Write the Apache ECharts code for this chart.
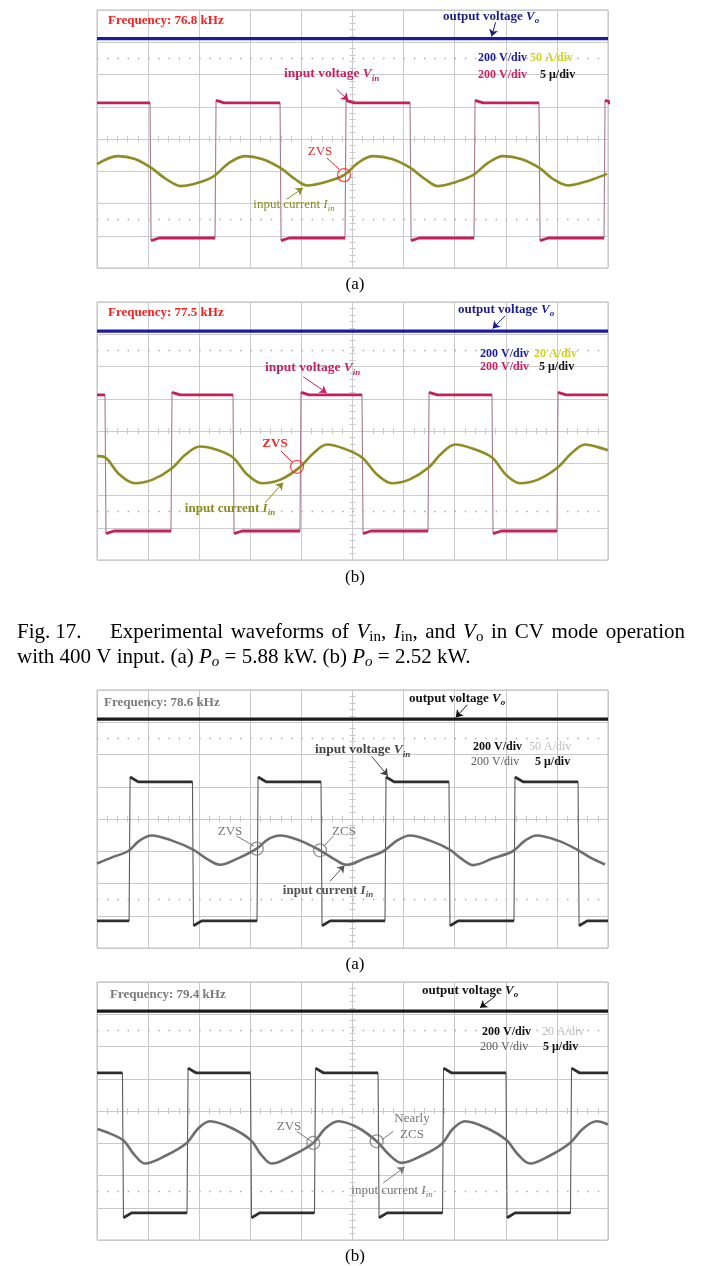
<!DOCTYPE html>
<html><head><meta charset="utf-8">
<script src="https://cdn.jsdelivr.net/npm/echarts@6/dist/echarts.min.js"></script>
<style>html,body{margin:0;padding:0;background:#fff}#c{width:702px;height:1266px}</style>
</head><body><div id="c"></div>
<script>
// ---------- axes (time in µs, 5 µs/div; vertical in screen divisions) ----------
const X_MIN = -25, X_MAX = 25, X_STEP = 5;
const Y_MIN = -4, Y_MAX = 4, Y_STEP = 1;

// ---------- panel (a) upper : Po = 5.88 kW, 76.8 kHz ----------
const voA = 3.11;
const vinA_levels = [1.12, -3.07];
const vinA_fall = [-19.81, -7.09, 5.63, 18.25];
const vinA_rise = [-13.45, -0.73, 11.89, 24.61];
const iinA = [[-25.00,-0.78],[-22.95,-0.53],[-21.28,-0.62],[-19.72,-0.89],[-18.25,-1.24],[-16.78,-1.46],[-15.12,-1.36],[-13.55,-1.15],[-12.08,-0.74],[-10.52,-0.53],[-8.86,-0.62],[-7.09,-0.89],[-5.63,-1.24],[-4.45,-1.44],[-2.59,-1.33],[-0.83,-1.12],[0.54,-0.74],[2.01,-0.53],[3.87,-0.62],[5.63,-0.89],[7.09,-1.24],[8.37,-1.46],[10.13,-1.33],[11.79,-1.12],[13.26,-0.74],[14.73,-0.53],[16.49,-0.62],[18.25,-0.89],[19.62,-1.24],[21.09,-1.44],[23.04,-1.30],[24.90,-1.08]];
const zvsA = [[-0.83, -1.12]];

// ---------- panel (b) upper : Po = 2.52 kW, 77.5 kHz ----------
const voB = 3.10;
const vinB_levels = [1.12, -3.10];
const vinB_fall = [-24.22, -11.69, 0.93, 13.65];
const vinB_rise = [-17.76, -5.14, 7.39, 20.01];
const iinB = [[-25,-0.78],[-24.22,-0.82],[-22.8,-1.35],[-21.28,-1.62],[-19.5,-1.5],[-17.76,-1.18],[-16.3,-0.72],[-14.92,-0.48],[-13.3,-0.58],[-11.69,-0.82],[-10.3,-1.35],[-8.86,-1.62],[-7.0,-1.5],[-5.14,-1.12],[-3.8,-0.68],[-2.49,-0.42],[-0.8,-0.55],[0.93,-0.82],[2.4,-1.35],[3.87,-1.62],[5.6,-1.5],[7.39,-1.15],[8.7,-0.7],[10.03,-0.42],[11.8,-0.55],[13.65,-0.82],[15.0,-1.35],[16.39,-1.62],[18.2,-1.5],[20.01,-1.15],[21.4,-0.7],[22.75,-0.42],[24.0,-0.5],[25,-0.6]];
const zvsB = [[-5.43, -1.11]];

// ---------- panel (a) lower : 78.6 kHz ----------
const voC = 3.10;
const vinC_levels = [1.15, -3.16];
const vinC_fall = [-15.66, -3.08, 9.44, 22.07];
const vinC_rise = [-21.86, -9.34, 3.18, 15.80];
const iinC = [[-25.0,-1.38],[-23.53,-1.19],[-21.98,-1.00],[-20.84,-0.67],[-19.65,-0.51],[-17.66,-0.67],[-15.64,-0.94],[-14.33,-1.22],[-12.97,-1.42],[-11.20,-1.22],[-9.37,-0.92],[-8.27,-0.63],[-7.09,-0.51],[-5.14,-0.67],[-3.18,-0.97],[-1.91,-1.22],[-0.57,-1.42],[1.22,-1.22],[3.01,-1.00],[4.35,-0.67],[5.63,-0.51],[7.58,-0.67],[9.47,-0.94],[10.62,-1.22],[11.82,-1.43],[13.75,-1.22],[15.68,-1.00],[16.88,-0.67],[18.02,-0.51],[20.11,-0.67],[22.10,-0.97],[23.24,-1.19],[24.71,-1.41]];
const zvsC = [[-9.37, -0.92]];
const zcsC = [[-3.18, -0.97]];

// ---------- panel (b) lower : 79.4 kHz ----------
const voD = 3.10;
const vinD_levels = [1.18, -3.16];
const vinD_fall = [-22.51, -9.98, 2.50, 15.02];
const vinD_rise = [-16.19, -3.72, 8.81, 21.33];
const iinD = [[-24.96,-0.56],[-23.72,-0.70],[-22.43,-0.91],[-21.36,-1.35],[-20.30,-1.63],[-18.25,-1.38],[-16.22,-0.99],[-15.12,-0.55],[-13.95,-0.32],[-11.89,-0.52],[-9.93,-0.91],[-8.95,-1.35],[-7.91,-1.63],[-5.92,-1.38],[-3.84,-0.99],[-2.69,-0.55],[-1.39,-0.32],[0.54,-0.52],[2.37,-0.94],[3.57,-1.35],[4.81,-1.61],[6.80,-1.38],[8.73,-1.02],[9.83,-0.55],[11.01,-0.32],[13.06,-0.52],[15.09,-0.91],[16.19,-1.35],[17.37,-1.63],[19.33,-1.38],[21.28,-0.99],[22.55,-0.55],[23.89,-0.32],[25.0,-0.42]];
const zvsD = [[-3.84, -0.99]];
const zcsD = [[2.37, -0.94]];

// ---------- helpers ----------
const SERIF = "'Liberation Serif','Times New Roman',serif";

function buildSquare(fall, rise, levels, startHigh, over) {
  const hi = levels[0], lo = levels[1];
  const edges = fall.map(t => [t, 'f']).concat(rise.map(t => [t, 'r'])).sort((a, b) => a[0] - b[0]);
  let lvl = startHigh ? hi : lo;
  const full = [[X_MIN, lvl]], flats = [[X_MIN, lvl]];
  edges.forEach(([t, k]) => {
    const from = k === 'f' ? hi : lo, to = k === 'f' ? lo : hi;
    const pk = k === 'f' ? lo - over : hi + over;
    full.push([t, from], [t + 0.1, pk], [t + 0.9, to]);
    flats.push([t, from], null, [t + 0.1, pk], [t + 0.9, to]);
    lvl = to;
  });
  full.push([X_MAX, lvl]); flats.push([X_MAX, lvl]);
  return {full, flats};
}

const panels = [
  {top: 10, vo: voA, vin: buildSquare(vinA_fall, vinA_rise, vinA_levels, true, 0.08), iin: iinA,
   col: {vo:'#1c1ca2', vin:'#c81e5c', edge:'#a57a90', iin:'#8e8d22', grid:'#cbcbcb', ann:'#ff2020', voT:'#1c1c8e', vinT:'#cc1e64', iinT:'#8a8a1e'},
   marks: [{pts: zvsA, color:'#ff2020'}],
   arrows: {vo: [[14.0, 3.62],[13.62, 3.18]], vin: [[-1.55, 1.54],[-0.41, 1.20]], iin: [[-6.44, -1.87],[-4.85, -1.52]]},
   links: [[[-2.50, -0.59],[-1.32, -0.93]]]},
  {top: 302, vo: voB, vin: buildSquare(vinB_fall, vinB_rise, vinB_levels, true, 0.08), iin: iinB,
   col: {vo:'#1c1ca2', vin:'#c81e5c', edge:'#a57a90', iin:'#8e8d22', grid:'#cbcbcb', ann:'#ff2020', voT:'#1c1c8e', vinT:'#cc1e64', iinT:'#8a8a1e'},
   marks: [{pts: zvsB, color:'#ff2020'}],
   arrows: {vo: [[14.92, 3.57],[13.71, 3.18]], vin: [[-4.81, 1.68],[-2.52, 1.18]], iin: [[-8.56, -2.23],[-6.8, -1.6]]},
   links: [[[-7.0, -0.62],[-5.92, -0.96]]]},
  {top: 690, vo: voC, vin: buildSquare(vinC_fall, vinC_rise, vinC_levels, false, 0.15), iin: iinC,
   col: {vo:'#1a1a1a', vin:'#2e2e2e', edge:'#5a5a5a', iin:'#6e6e6e', grid:'#c8c8c8', ann:'#777777', voT:'#111', vinT:'#444', iinT:'#555'},
   marks: [{pts: zvsC, color:'#777'}, {pts: zcsC, color:'#777'}],
   arrows: {vo: [[11.23, 3.54],[10.10, 3.15]], vin: [[1.88, 1.94],[3.45, 1.34]], iin: [[-2.20, -1.93],[-0.78, -1.44]]},
   links: [[[-11.33, -0.53],[-9.64, -0.84]], [[-1.88, -0.53],[-2.80, -0.84]]]},
  {top: 982, vo: voD, vin: buildSquare(vinD_fall, vinD_rise, vinD_levels, true, 0.15), iin: iinD,
   col: {vo:'#1a1a1a', vin:'#2e2e2e', edge:'#5a5a5a', iin:'#6e6e6e', grid:'#c8c8c8', ann:'#777777', voT:'#111', vinT:'#444', iinT:'#777'},
   marks: [{pts: zvsD, color:'#777'}, {pts: zcsD, color:'#777'}],
   arrows: {vo: [[13.94, 3.55],[12.48, 3.2]], vin: null, iin: [[3.01, -2.23],[5.1, -1.74]]},
   links: [[[-5.46, -0.63],[-3.95, -0.96]], [[3.99, -0.63],[2.93, -0.88]]]}
];

const grids = [], xAxes = [], yAxes = [], series = [];
panels.forEach((p, i) => {
  grids.push({left: 97, top: p.top, width: 511, height: 258, show: true, borderColor: '#bdbdbd', borderWidth: 1, backgroundColor: 'transparent'});
  const gl = {color: p.col.grid, width: 1};
  const tk = {show: true, inside: false, length: 3, lineStyle: gl};
  const mt = {show: true, splitNumber: 5, length: 3, lineStyle: gl};
  ['bottom', 'top'].forEach((pos, j) => xAxes.push({gridIndex: i, type: 'value', position: pos, min: X_MIN, max: X_MAX, interval: X_STEP,
    axisLine: {show: true, onZero: true, lineStyle: gl}, axisTick: tk, minorTick: mt, axisLabel: {show: false},
    splitLine: {show: j === 0, lineStyle: gl}}));
  ['left', 'right'].forEach((pos, j) => yAxes.push({gridIndex: i, type: 'value', position: pos, min: Y_MIN, max: Y_MAX, interval: Y_STEP,
    axisLine: {show: true, onZero: true, lineStyle: gl}, axisTick: tk, minorTick: mt, axisLabel: {show: false},
    splitLine: {show: j === 0, lineStyle: gl}}));
  const ax = {xAxisIndex: 2 * i, yAxisIndex: 2 * i};
  const ml = (pairs, color, arrow) => pairs ? {silent: true, animation: false, symbol: arrow ? ['none', 'arrow'] : ['none', 'none'], symbolSize: 7,
    label: {show: false}, lineStyle: {color, width: 1, type: 'solid'}, emphasis: {disabled: true},
    data: pairs.map(pr => [{coord: pr[0]}, {coord: pr[1]}])} : undefined;
  series.push(Object.assign({type: 'line', data: [], symbol: 'none', silent: true,
    markLine: {silent: true, symbol: 'none', label: {show: false}, lineStyle: {color: '#a8a8a8', width: 1.4, type: [1.4, 8.82]},
      data: [{yAxis: 2.5}, {yAxis: -2.5}]}}, ax));
  series.push(Object.assign({type: 'line', data: [[X_MIN, p.vo], [X_MAX, p.vo]], symbol: 'none', lineStyle: {color: p.col.vo, width: 3.2}, z: 4,
    markLine: ml([p.arrows.vo], p.col.voT, true)}, ax));
  series.push(Object.assign({type: 'line', data: p.vin.full, symbol: 'none', lineStyle: {color: p.col.edge, width: 1.1}, z: 3}, ax));
  series.push(Object.assign({type: 'line', data: p.vin.flats, symbol: 'none', connectNulls: false, lineStyle: {color: p.col.vin, width: 2.8}, z: 3,
    markLine: ml(p.arrows.vin ? [p.arrows.vin] : null, p.col.vinT, true)}, ax));
  series.push(Object.assign({type: 'line', data: p.iin, symbol: 'none', smooth: 0.35, lineStyle: {color: p.col.iin, width: 2.6}, z: 5,
    markLine: ml([p.arrows.iin], p.col.iinT, true)}, ax));
  p.marks.forEach((m, k) => series.push(Object.assign({type: 'scatter', data: m.pts, symbol: 'circle', symbolSize: 13, z: 6,
    itemStyle: {color: 'rgba(0,0,0,0)', borderColor: m.color, borderWidth: 1.3},
    markLine: k === 0 ? ml(p.links, p.col.ann, false) : undefined}, ax)));
});

// ---------- text ----------
function richDefs(size, w, subUpright) {
  const lh = size + 4;
  const tok = (style, sz, extra) => Object.assign({fontSize: sz, fontFamily: SERIF, fontWeight: w, fontStyle: style, lineHeight: lh}, extra || {});
  return {n: tok('normal', size), i: tok('italic', size),
    s: tok(subUpright ? 'normal' : 'italic', Math.round(size * 0.7), {lineHeight: Math.round(size * 0.62), verticalAlign: 'bottom'})};
}
function T(x, y, text, o) {
  o = o || {};
  const size = o.size || 13, w = o.weight || 'normal';
  return {type: 'text', x, y, silent: true, z: 100, style: {
    text, fill: o.color || '#000', align: o.align || 'left', verticalAlign: 'middle',
    fontSize: size, fontFamily: SERIF, fontWeight: w, lineHeight: size + 4,
    rich: richDefs(size, w, o.subUpright)}};
}
const B = 'bold';
const texts = [
  T(108, 21, '{n|Frequency: 76.8 kHz}', {color: '#ff1c1c', weight: B}),
  T(443, 17, '{n|output voltage }{i|V}{s|o}', {color: '#1c1c8e', weight: B}),
  T(478, 58, '{n|200 V/div}', {color: '#1c1c9c', weight: B, size: 12}),
  T(530, 58, '{n|50 A/div}', {color: '#d2d21e', weight: B, size: 12}),
  T(478, 75, '{n|200 V/div}', {color: '#d01e64', weight: B, size: 12}),
  T(540, 75, '{n|5 μ/div}', {color: '#111', weight: B, size: 12}),
  T(284, 74, '{n|input voltage }{i|V}{s|in}', {color: '#cc1e64', weight: B, size: 13.5}),
  T(320, 152, '{n|ZVS}', {color: '#ff2020', align: 'center'}),
  T(294, 205, '{n|input current }{i|I}{s|in}', {color: '#8a8a1e', align: 'center'}),
  T(108, 313, '{n|Frequency: 77.5 kHz}', {color: '#ff1c1c', weight: B}),
  T(458, 310, '{n|output voltage }{i|V}{s|o}', {color: '#1c1c8e', weight: B}),
  T(480, 354, '{n|200 V/div}', {color: '#1c1c9c', weight: B, size: 12}),
  T(534, 354, '{n|20 A/div}', {color: '#d2d21e', weight: B, size: 12}),
  T(480, 367, '{n|200 V/div}', {color: '#d01e64', weight: B, size: 12}),
  T(539, 367, '{n|5 μ/div}', {color: '#111', weight: B, size: 12}),
  T(265, 368, '{n|input voltage }{i|V}{s|in}', {color: '#cc1e64', weight: B, size: 13.5}),
  T(275, 444, '{n|ZVS}', {color: '#ff2020', align: 'center', weight: B}),
  T(230, 509, '{n|input current }{i|I}{s|in}', {color: '#8a8a1e', align: 'center', weight: B}),
  T(104, 703, '{n|Frequency: 78.6 kHz}', {color: '#7a7a7a', weight: B}),
  T(409, 699, '{n|output voltage }{i|V}{s|o}', {color: '#111', weight: B}),
  T(473, 747, '{n|200 V/div}', {color: '#111', weight: B, size: 12}),
  T(529, 747, '{n|50 A/div}', {color: '#bdbdbd', size: 12}),
  T(471, 762, '{n|200 V/div}', {color: '#5c5c5c', size: 12}),
  T(535, 762, '{n|5 μ/div}', {color: '#111', weight: B, size: 12}),
  T(315, 750, '{n|input voltage }{i|V}{s|in}', {color: '#444', weight: B, size: 13.5}),
  T(230, 832, '{n|ZVS}', {color: '#777', align: 'center'}),
  T(344, 832, '{n|ZCS}', {color: '#777', align: 'center'}),
  T(328, 891, '{n|input current }{i|I}{s|in}', {color: '#555', align: 'center', weight: B}),
  T(110, 995, '{n|Frequency: 79.4 kHz}', {color: '#7a7a7a', weight: B}),
  T(422, 991, '{n|output voltage }{i|V}{s|o}', {color: '#111', weight: B}),
  T(482, 1032, '{n|200 V/div}', {color: '#111', weight: B, size: 12}),
  T(542, 1032, '{n|20 A/div}', {color: '#bdbdbd', size: 12}),
  T(480, 1047, '{n|200 V/div}', {color: '#5c5c5c', size: 12}),
  T(543, 1047, '{n|5 μ/div}', {color: '#111', weight: B, size: 12}),
  T(289, 1127, '{n|ZVS}', {color: '#777', align: 'center'}),
  T(412, 1119, '{n|Nearly}', {color: '#777', align: 'center'}),
  T(412, 1135, '{n|ZCS}', {color: '#777', align: 'center'}),
  T(392, 1191, '{n|input current }{i|I}{s|in}', {color: '#777', align: 'center'}),
  T(355, 285, '{n|(a)}', {size: 17, align: 'center'}),
  T(355, 578, '{n|(b)}', {size: 17, align: 'center'}),
  T(355, 965, '{n|(a)}', {size: 17, align: 'center'}),
  T(355, 1257, '{n|(b)}', {size: 17, align: 'center'})
];

// ---------- caption (first line justified) ----------
const CAP = 21;
const capHead = ['{n|Fig.}', '{n|17.}'];
const capWords = ['{n|Experimental}', '{n|waveforms}', '{n|of}', '{i|V}{s|in}{n|,}', '{i|I}{s|in}{n|,}', '{n|and}', '{i|V}{s|o}', '{n|in}', '{n|CV}', '{n|mode}', '{n|operation}'];
const capLine2 = '{n|with 400 V input. (a) }{i|P}{s|o}{n| = 5.88 kW. (b) }{i|P}{s|o}{n| = 2.52 kW.}';
const ctx = document.createElement('canvas').getContext('2d');
function measure(rt, size) {
  let w = 0; const re = /\{(\w)\|([^}]*)\}/g; let m;
  while ((m = re.exec(rt))) {
    const st = m[1] === 'i' ? 'italic ' : '';
    const sz = m[1] === 's' ? Math.round(size * 0.7) : size;
    ctx.font = st + sz + 'px ' + SERIF;
    w += ctx.measureText(m[2]).width;
  }
  return w;
}
const CAP_L = 17, CAP_R = 685, CAP_W_START = 110, Y1 = 632, Y2 = 657;
texts.push(T(CAP_L, Y1, capHead[0], {size: CAP}));
texts.push(T(CAP_L + measure(capHead[0], CAP) + 5, Y1, capHead[1], {size: CAP}));
const widths = capWords.map(w => measure(w, CAP));
const gap = (CAP_R - CAP_W_START - widths.reduce((a, b) => a + b, 0)) / (capWords.length - 1);
let cx = CAP_W_START;
capWords.forEach((w, k) => { texts.push(T(cx, Y1, w, {size: CAP, subUpright: true})); cx += widths[k] + gap; });
texts.push(T(CAP_L, Y2, capLine2, {size: CAP}));

const chart = echarts.init(document.getElementById('c'), null, {renderer: 'canvas', width: 702, height: 1266});
chart.setOption({
  animation: false,
  backgroundColor: '#fff',
  grid: grids, xAxis: xAxes, yAxis: yAxes, series,
  graphic: {elements: texts}
});
</script></body></html>
